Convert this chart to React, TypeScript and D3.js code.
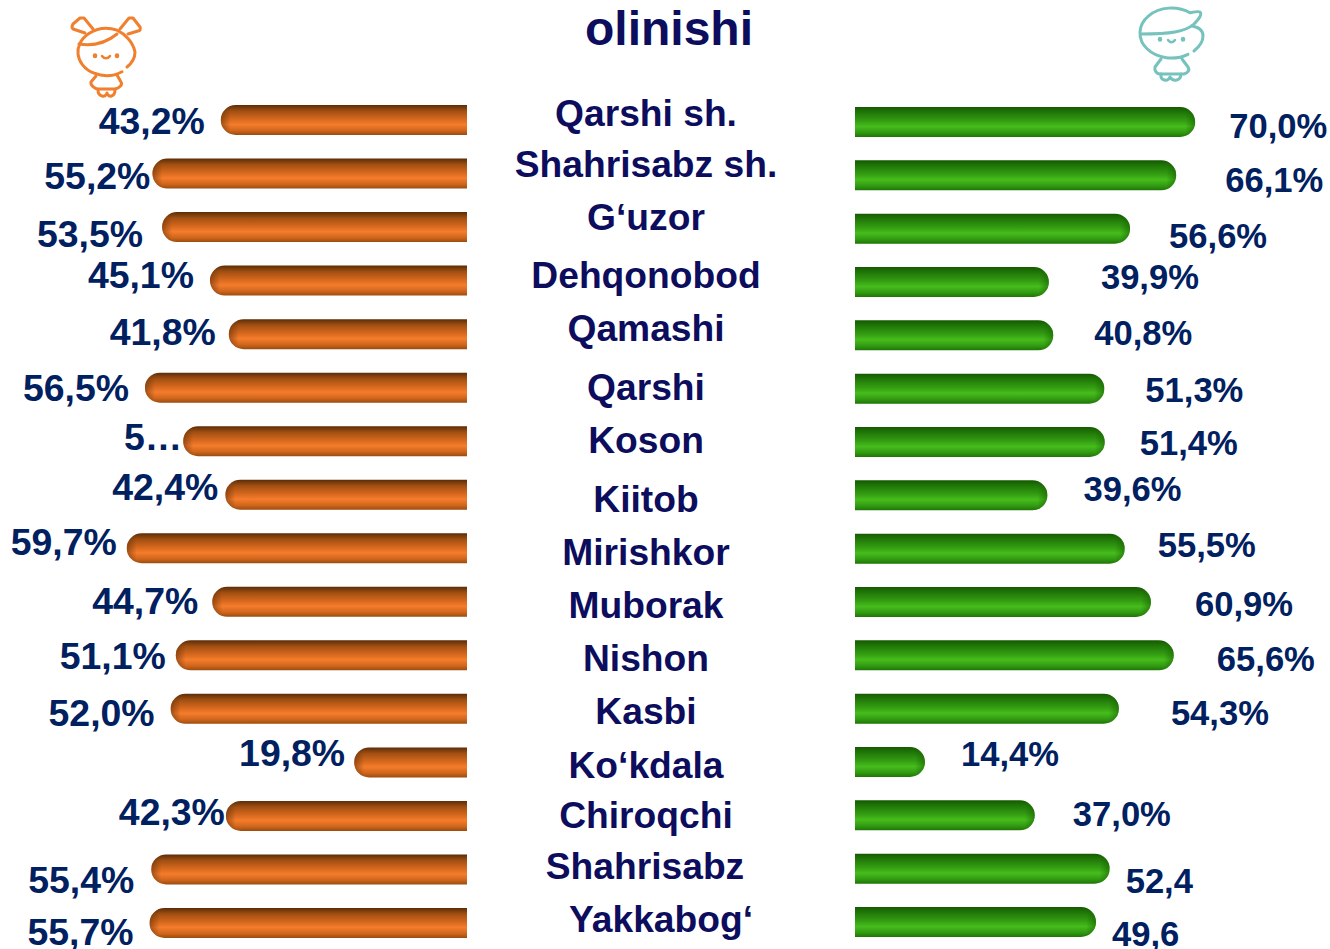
import React from "react";
import * as d3 from "d3";

const titleText = "olinishi";
const categories = ["Qarshi sh.", "Shahrisabz sh.", "G‘uzor", "Dehqonobod", "Qamashi", "Qarshi", "Koson", "Kiitob", "Mirishkor", "Muborak", "Nishon", "Kasbi", "Ko‘kdala", "Chiroqchi", "Shahrisabz", "Yakkabog‘"];
const girlsValues = [43.2, 55.2, 53.5, 45.1, 41.8, 56.5, 49.8, 42.4, 59.7, 44.7, 51.1, 52.0, 19.8, 42.3, 55.4, 55.7];
const girlsLabels = ["43,2%", "55,2%", "53,5%", "45,1%", "41,8%", "56,5%", "5…", "42,4%", "59,7%", "44,7%", "51,1%", "52,0%", "19,8%", "42,3%", "55,4%", "55,7%"];
const boysValues = [70.0, 66.1, 56.6, 39.9, 40.8, 51.3, 51.4, 39.6, 55.5, 60.9, 65.6, 54.3, 14.4, 37.0, 52.4, 49.6];
const boysLabels = ["70,0%", "66,1%", "56,6%", "39,9%", "40,8%", "51,3%", "51,4%", "39,6%", "55,5%", "60,9%", "65,6%", "54,3%", "14,4%", "37,0%", "52,4", "49,6"];

// hand-placed label layout of the original slide
const girlsGap = [16, 2, 19, 16, 13, 16, 1, 7, 10, 14, 10, 16, 9, 1, 17, 16];
const girlsDy = [1, 2, 7, -6, -2, 0, -4, -8, -6, -1, 1, 4, -9, -4, 10, 9];
const boysGap = [34, 49, 39, 52, 41, 41, 35, 36, 33, 44, 43, 52, 36, 38, 16, 16];
const boysDy = [4, 5, 7, -5, -2, 1, 1, -6, -4, 2, 4, 4, -8, -1, 12, 12];
const catDy = [-7, -10, -10, -6, -6, -1, -1, 4, 4, 3, 3, 2, 3, -1, -3, -4];
const catDx = [0, 0, 0, 0, 0, 0, 0, 0, 0, 0, 0, 0, 0, 0, -1, 15];

const idx = d3.range(categories.length);
const BAR_H = 30;
const xLeft = d3.scaleLinear().domain([0, 100]).range([467, 467 - 570]);
const xRight = d3.scaleLinear().domain([0, 100]).range([855, 855 + 486]);
const yLeft = d3.scalePoint<number>().domain(idx).range([105, 908]);
const yRight = d3.scalePoint<number>().domain(idx).range([107, 907]);
const yCat = d3.scalePoint<number>().domain(idx).range([120, 923]);

const NAVY = "#002060";
const TITLE = "#0d0d5e";
const FONT = "'Liberation Sans', Arial, sans-serif";

function barPath(x0: number, x1: number, y: number, h: number) {
  const r = h / 2;
  const dir = x1 > x0 ? 1 : -1;
  const p = d3.path();
  p.moveTo(x0, y);
  p.lineTo(x1 - dir * r, y);
  p.arc(x1 - dir * r, y + r, r, -Math.PI / 2, Math.PI / 2, dir < 0);
  p.lineTo(x0, y + h);
  p.closePath();
  return p.toString();
}

function Girl() {
  return (
    <g fill="none" stroke="#f07f2e" strokeWidth={3} strokeLinecap="round" strokeLinejoin="round">
      <path d="M122 71.7 A28.5 23.5 0 1 1 117 30.2 C125 34 133 42 135 52 C135 58 132 63 127 67" />
      <path d="M79 44 C92 46 106 43 117 34" />
      <path d="M85 33 L73 29 C71 27 72 26 73 24 L80 18 L84 18 L93 29" />
      <path d="M120 29 L129 18 L133 18 L140 27 C141 29 140 31 138 31 L128 34" />
      <path d="M96 76 L91 82 C90 85 95 89 98 89 L115 89 C119 88 123 85 121 82 L117 75" />
      <path d="M98 90 C98 97 106 98 107 93 C108 98 115 97 115 90" />
      <path d="M95 55.5 L95 56 M117 55.5 L117 56" strokeWidth={4.5} />
      <path d="M102 56 C104 59 108 59 110 56" strokeWidth={2.5} />
    </g>
  );
}

function Boy() {
  return (
    <g fill="none" stroke="#76c2bd" strokeWidth={3} strokeLinecap="round" strokeLinejoin="round">
      <path d="M1188 54.3 A31.5 25 0 1 1 1190 12.8 C1194 12 1198 11 1200 12 C1202 14 1200 18 1194 24 C1185 32 1170 34 1141 34" />
      <path d="M1192 26 C1198 27 1203 30 1203 36 C1203 42 1199 47 1194 51" />
      <path d="M1161 59 L1155 67 C1154 71 1157 74 1160 74 L1184 74 C1188 73 1190 70 1188 67 L1182 59" />
      <path d="M1161 74 C1160 81 1168 82 1170 77 C1173 82 1181 81 1181 74" />
      <path d="M1160 39 L1160 39.5 M1183 39 L1183 39.5" strokeWidth={4.5} />
      <path d="M1168 40 C1170 43 1173 43 1175 40" strokeWidth={2.5} />
    </g>
  );
}

export default function App() {
  return (
    <svg width={1330} height={949} style={{ position: "fixed", left: 0, top: 0, background: "#fff" }}>
      <defs>
        <linearGradient id="og" x1="0" y1="0" x2="0" y2="1">
          <stop offset="0" stopColor="#5a2c08" />
          <stop offset="0.2" stopColor="#a14f12" />
          <stop offset="0.45" stopColor="#d2661c" />
          <stop offset="0.65" stopColor="#f57c2c" />
          <stop offset="0.85" stopColor="#d0661c" />
          <stop offset="1" stopColor="#9a4c10" />
        </linearGradient>
        <linearGradient id="gg" x1="0" y1="0" x2="0" y2="1">
          <stop offset="0" stopColor="#155a00" />
          <stop offset="0.2" stopColor="#217a08" />
          <stop offset="0.45" stopColor="#339b12" />
          <stop offset="0.65" stopColor="#46bd1c" />
          <stop offset="0.85" stopColor="#329a12" />
          <stop offset="1" stopColor="#1f7506" />
        </linearGradient>
        <linearGradient id="capL" x1="0" y1="0" x2="1" y2="0">
          <stop offset="0" stopColor="#5a2c08" stopOpacity={0.55} />
          <stop offset="1" stopColor="#5a2c08" stopOpacity={0} />
        </linearGradient>
        <linearGradient id="capR" x1="1" y1="0" x2="0" y2="0">
          <stop offset="0" stopColor="#155a00" stopOpacity={0.55} />
          <stop offset="1" stopColor="#155a00" stopOpacity={0} />
        </linearGradient>
      </defs>

      <text x={669} y={45} textAnchor="middle" fontFamily={FONT} fontWeight={700} fontSize={48} fill={TITLE}>{titleText}</text>
      <Girl />
      <Boy />

      {idx.map((i) => {
        const end = xLeft(girlsValues[i]);
        const y = yLeft(i)!;
        const d = barPath(xLeft(0), end, y, BAR_H);
        return (
          <g key={"l" + i}>
            <path d={d} fill="url(#og)" />
            <clipPath id={"cl" + i}><path d={d} /></clipPath>
            <rect x={end} y={y} width={10} height={BAR_H} fill="url(#capL)" clipPath={`url(#cl${i})`} />
            <text x={end - girlsGap[i]} y={y + BAR_H / 2 + girlsDy[i]} dy="0.35em" textAnchor="end" fontFamily={FONT} fontWeight={700} fontSize={37.4} fill={NAVY}>{girlsLabels[i]}</text>
          </g>
        );
      })}

      {idx.map((i) => {
        const end = xRight(boysValues[i]);
        const y = yRight(i)!;
        const d = barPath(xRight(0), end, y, BAR_H);
        return (
          <g key={"r" + i}>
            <path d={d} fill="url(#gg)" />
            <clipPath id={"cr" + i}><path d={d} /></clipPath>
            <rect x={end - 10} y={y} width={10} height={BAR_H} fill="url(#capR)" clipPath={`url(#cr${i})`} />
            <text x={end + boysGap[i]} y={y + BAR_H / 2 + boysDy[i]} dy="0.35em" textAnchor="start" fontFamily={FONT} fontWeight={700} fontSize={34.6} fill={NAVY}>{boysLabels[i]}</text>
          </g>
        );
      })}

      {categories.map((c, i) => (
        <text key={c} x={646 + catDx[i]} y={yCat(i)! + catDy[i]} dy="0.35em" textAnchor="middle" fontFamily={FONT} fontWeight={700} fontSize={37.2} fill={TITLE}>{c}</text>
      ))}
    </svg>
  );
}
